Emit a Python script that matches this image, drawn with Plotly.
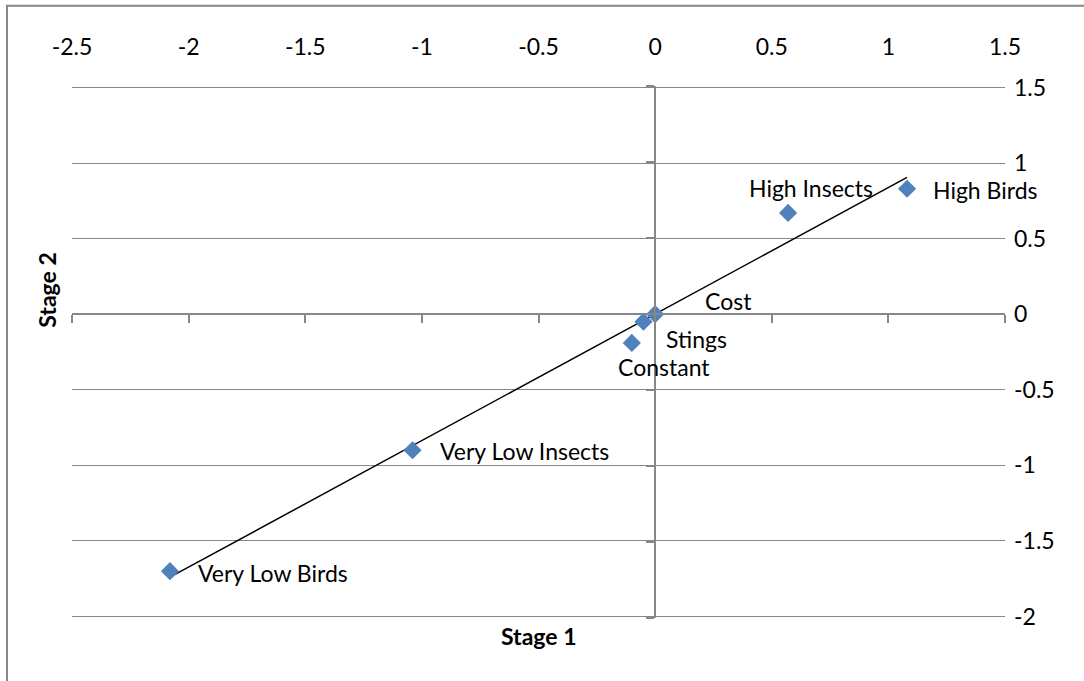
import plotly.graph_objects as go

# ---- data ----
labels = ["Very Low Birds", "Very Low Insects", "Constant", "Stings", "Cost", "High Insects", "High Birds"]
stage1 = [-2.08, -1.04, -0.10, -0.05, 0.00, 0.57, 1.08]
stage2 = [-1.70, -0.90, -0.19, -0.05, 0.00, 0.67, 0.83]
trend_x = [-2.08, 1.08]
trend_y = [-1.74, 0.905]
x_ticks = [-2.5, -2, -1.5, -1, -0.5, 0, 0.5, 1, 1.5]
y_ticks = [1.5, 1, 0.5, 0, -0.5, -1, -1.5, -2]

# ---- style ----
FONT = "Lato"
FS = 23
GRID = "#878787"
XR = [-2.5, 1.5]
YR = [-2.01, 1.51]
label_offsets = {  # pixel offsets of data labels (xshift, yshift)
    "Very Low Birds": (26, -2),
    "Very Low Insects": (25, -1),
    "Constant": (-16, -24),
    "Stings": (21, -17),
    "Cost": (48, 13),
    "High Insects": (-41, 25),
    "High Birds": (24, -1),
}

fig = go.Figure()
fig.add_trace(go.Scatter(x=[None], y=[None], xaxis="x2", yaxis="y2", showlegend=False,
                         hoverinfo="skip"))
fig.add_trace(go.Scatter(x=trend_x, y=trend_y, mode="lines",
                         line=dict(color="black", width=1.5), hoverinfo="skip",
                         showlegend=False))
fig.add_trace(go.Scatter(x=stage1, y=stage2, mode="markers",
                         marker=dict(symbol="diamond", size=14, color="#4F81BD",
                                     line=dict(width=0)),
                         text=labels, showlegend=False))

for lab, xv, yv in zip(labels, stage1, stage2):
    dx, dy = label_offsets[lab]
    fig.add_annotation(x=xv, y=yv, text=lab, showarrow=False, xanchor="left",
                       yanchor="middle", xshift=dx, yshift=dy,
                       font=dict(family=FONT, size=FS, color="black"))

# axis titles
fig.add_annotation(xref="paper", yref="paper", x=0.5, y=0, yshift=-18,
                   text="<b>Stage 1</b>", showarrow=False, yanchor="middle",
                   font=dict(family=FONT, size=FS, color="black"))
fig.add_annotation(xref="paper", yref="paper", x=0, xshift=-25, y=0.617,
                   text="<b>Stage 2</b>", showarrow=False, textangle=-90,
                   xanchor="center", yanchor="middle",
                   font=dict(family=FONT, size=FS, color="black"))

# chart outer border
fig.add_shape(type="rect", xref="paper", yref="paper",
              x0=-0.0697, y0=-0.6, x1=1.5, y1=1.151,
              line=dict(color=GRID, width=2), fillcolor="rgba(0,0,0,0)", layer="below")

fig.update_layout(
    width=1084, height=681,
    margin=dict(l=72, r=79, t=86, b=63, autoexpand=False),
    paper_bgcolor="white", plot_bgcolor="white",
    font=dict(family=FONT, size=FS, color="black"),
    xaxis=dict(range=XR, tickvals=x_ticks, ticktext=[f"{v:g}" for v in x_ticks],
               side="top", showgrid=False, zeroline=False, showline=False,
               ticks="", ticklabelstandoff=25, tickfont=dict(family=FONT, size=FS)),
    yaxis=dict(range=YR, tickvals=y_ticks, ticktext=[f"{v:g}" for v in y_ticks],
               side="right", showgrid=True, gridcolor=GRID, gridwidth=1.3,
               zeroline=False, showline=False, ticks="", ticklabelstandoff=8,
               tickfont=dict(family=FONT, size=FS)),
    # axis lines crossing at zero
    xaxis2=dict(range=XR, tickvals=x_ticks, overlaying="x", anchor="free",
                position=(0 - YR[0]) / (YR[1] - YR[0]), side="bottom", showline=True,
                linecolor=GRID, linewidth=2, ticks="outside", ticklen=8, tickwidth=1.5,
                tickcolor=GRID, showticklabels=False, showgrid=False, zeroline=False),
    yaxis2=dict(range=[-2, 1.5], tickvals=y_ticks, overlaying="y", anchor="free",
                domain=[(-2 - YR[0]) / (YR[1] - YR[0]), (1.5 - YR[0]) / (YR[1] - YR[0])],
                position=(0 - XR[0]) / (XR[1] - XR[0]), side="left", showline=True,
                linecolor=GRID, linewidth=2, ticks="outside", ticklen=8, tickwidth=1.5,
                tickcolor=GRID, showticklabels=False, showgrid=False, zeroline=False),
)

fig.write_html("out.html", config={"displayModeBar": False},
               post_script="document.body.style.margin='0';")
